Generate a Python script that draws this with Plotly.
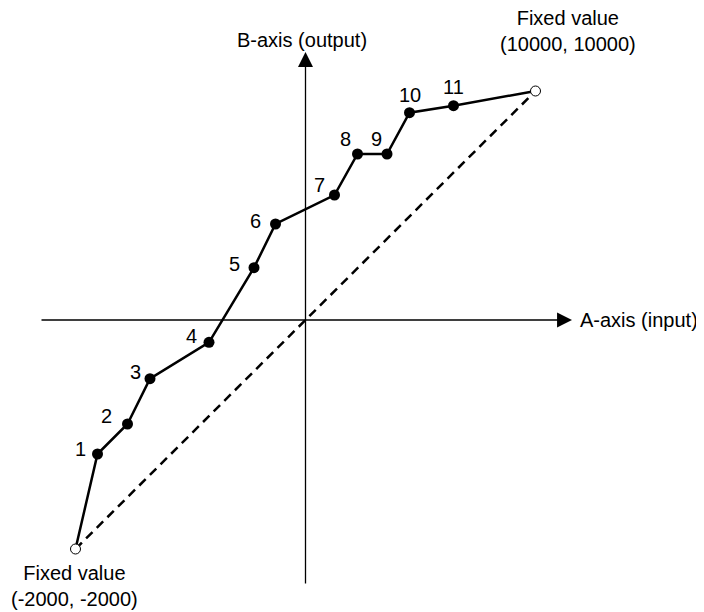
import plotly.graph_objects as go

# schematic units: origin where the two axes cross
point_ids = ["1", "2", "3", "4", "5", "6", "7", "8", "9", "10", "11"]
a_input = [-208, -178, -155.5, -96.5, -51.5, -30, 29, 52, 81.5, 104, 148]
b_output = [-134, -104, -58.7, -22.3, 52.3, 96, 125, 166, 166, 207.3, 214.3]

fixed_a = [-230, 230]
fixed_b = [-229, 229]
fixed_text = ["Fixed value<br>(-2000, -2000)", "Fixed value<br>(10000, 10000)"]

# label offsets (pixels) for the point numbers
label_dx = [-17, -21, -15, -18, -20, -20, -15, -12, -11, 0, 0]
label_dy = [5, 8, 7, 6, 4, 3, 10, 15, 15, 18, 19]

FONT = "Liberation Sans, Arial, Helvetica, sans-serif"
FS = 20

fig = go.Figure()

# dashed straight line between the fixed values
fig.add_trace(go.Scatter(
    x = fixed_a, y = fixed_b,
    mode = "lines",
    line = dict(color = "black", width = 2.5, dash = "9px,6px"),
    hoverinfo = "skip"
))

# piecewise curve through the points
fig.add_trace(go.Scatter(
    x = [fixed_a[0]] + a_input + [fixed_a[1]],
    y = [fixed_b[0]] + b_output + [fixed_b[1]],
    mode = "lines",
    line = dict(color = "black", width = 2.5),
    hoverinfo = "skip"
))

fig.add_trace(go.Scatter(
    x = a_input, y = b_output,
    mode = "markers",
    marker = dict(color = "black", size = 11),
    hoverinfo = "skip"
))

fig.add_trace(go.Scatter(
    x = fixed_a, y = fixed_b,
    mode = "markers",
    marker = dict(color = "white", size = 10, line = dict(color = "black", width = 1)),
    hoverinfo = "skip"
))

annotations = []
for pid, xa, yb, dx, dy in zip(point_ids, a_input, b_output, label_dx, label_dy):
    annotations.append(dict(
        x = xa, y = yb, text = pid, showarrow = False,
        xshift = dx, yshift = dy,
        font = dict(size = FS, color = "black", family = FONT)
    ))

# axes with arrows
annotations.append(dict(
    x = 266.5, y = 0, ax = -265.5, ay = 0, axref = "x", ayref = "y",
    showarrow = True, arrowhead = 2, arrowsize = 2.3, arrowwidth = 1.3,
    arrowcolor = "black", text = ""
))
annotations.append(dict(
    x = 0, y = 268, ax = 0, ay = -265, axref = "x", ayref = "y",
    showarrow = True, arrowhead = 2, arrowsize = 2.3, arrowwidth = 1.3,
    arrowcolor = "black", text = ""
))
annotations.append(dict(
    x = 272, y = 0, text = "A-axis (input)", showarrow = False,
    xanchor = "left", font = dict(size = FS, color = "black", family = FONT)
))
annotations.append(dict(
    x = -3.5, y = 280, text = "B-axis (output)", showarrow = False,
    font = dict(size = FS, color = "black", family = FONT)
))
annotations.append(dict(
    x = fixed_a[0], y = fixed_b[0], text = fixed_text[0], showarrow = False,
    xshift = -1, yshift = -37,
    font = dict(size = FS, color = "black", family = FONT)
))
annotations.append(dict(
    x = fixed_a[1], y = fixed_b[1], text = fixed_text[1], showarrow = False,
    xshift = 32, yshift = 60,
    font = dict(size = FS, color = "black", family = FONT)
))

# the page body adds an 8px margin, so the figure is 8px smaller each way
fig.update_layout(
    width = 696, height = 604, autosize = False,
    margin = dict(l = 0, r = 0, t = 0, b = 0, pad = 0),
    paper_bgcolor = "white", plot_bgcolor = "white",
    showlegend = False,
    xaxis = dict(range = [-297.5, 398.5], visible = False, fixedrange = True),
    yaxis = dict(range = [-292, 312], visible = False, fixedrange = True),
    annotations = annotations
)

fig.write_html("out.html")
